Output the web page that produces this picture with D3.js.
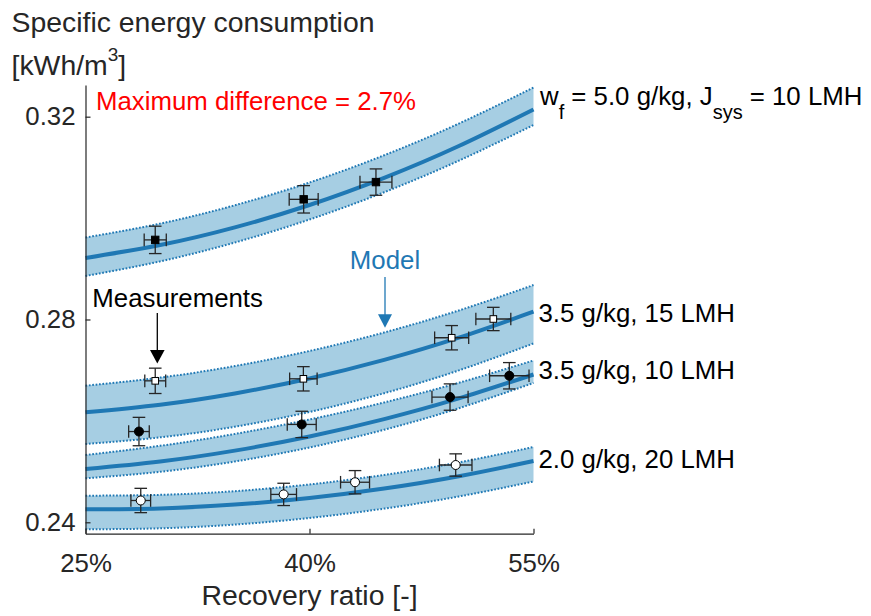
<!DOCTYPE html>
<html>
<head>
<meta charset="utf-8">
<script src="https://cdn.jsdelivr.net/npm/d3@7"></script>
<style>
  html, body { margin: 0; padding: 0; background: #fff; }
  svg { display: block; font-family: "Liberation Sans", Arial, Helvetica, sans-serif; }
</style>
</head>
<body>
<svg id="chart" width="871" height="616"></svg>
<script>
// Recovery ratio grid (%) on which the model band is evaluated
const modelRecovery = [25, 30, 35, 40, 45, 50, 55];

// Model: specific energy consumption [kWh/m3] — centre line, upper and lower bound
const modelW50J10     = [0.29213, 0.29468, 0.29817, 0.30258, 0.30793, 0.31421, 0.32142];
const modelW50J10Hi   = [0.29617, 0.29891, 0.30253, 0.30702, 0.31239, 0.31864, 0.32576];
const modelW50J10Lo   = [0.28858, 0.29146, 0.29518, 0.29972, 0.30510, 0.31132, 0.31836];

const modelW35J15     = [0.26170, 0.26320, 0.26542, 0.26836, 0.27203, 0.27642, 0.28154];
const modelW35J15Hi   = [0.26694, 0.26854, 0.27082, 0.27379, 0.27744, 0.28178, 0.28680];
const modelW35J15Lo   = [0.25544, 0.25675, 0.25885, 0.26176, 0.26546, 0.26996, 0.27527];

const modelW35J10     = [0.25051, 0.25200, 0.25414, 0.25692, 0.26035, 0.26443, 0.26915];
const modelW35J10Hi   = [0.25327, 0.25509, 0.25743, 0.26028, 0.26364, 0.26752, 0.27191];
const modelW35J10Lo   = [0.24868, 0.24996, 0.25199, 0.25475, 0.25825, 0.26250, 0.26748];

const modelW20J20     = [0.24256, 0.24274, 0.24349, 0.24479, 0.24666, 0.24909, 0.25209];
const modelW20J20Hi   = [0.24525, 0.24541, 0.24614, 0.24746, 0.24935, 0.25181, 0.25485];
const modelW20J20Lo   = [0.23862, 0.23881, 0.23955, 0.24085, 0.24270, 0.24509, 0.24805];

// Measurements: recovery (%), SEC (kWh/m3) and their uncertainties
const measW50J10Rec  = [29.67, 39.61, 44.45];
const measW50J10Sec  = [0.2957, 0.3037, 0.3071];
const measW50J10XErr = [0.74, 0.97, 1.07];
const measW50J10YErr = [0.0027, 0.0027, 0.0026];

const measW35J15Rec  = [29.67, 39.59, 49.52, 52.31];
const measW35J15Sec  = [0.2679, 0.2683, 0.2764, 0.2801];
const measW35J15XErr = [0.70, 0.92, 1.14, 1.17];
const measW35J15YErr = [0.0025, 0.0024, 0.0024, 0.0023];

const measW35J10Rec  = [28.58, 39.48, 49.41, 53.38];
const measW35J10Sec  = [0.2579, 0.2593, 0.2647, 0.2689];
const measW35J10XErr = [0.69, 0.97, 1.21, 1.32];
const measW35J10YErr = [0.0028, 0.0026, 0.0026, 0.0026];

const measW20J20Rec  = [28.70, 38.27, 43.05, 49.79];
const measW20J20Sec  = [0.2443, 0.2455, 0.2479, 0.2513];
const measW20J20XErr = [0.66, 0.86, 0.97, 1.09];
const measW20J20YErr = [0.0024, 0.0022, 0.0023, 0.0022];

// Axis ticks
const xTicks = [25, 40, 55];
const yTicks = [0.24, 0.28, 0.32];

// Build combined structures
const bands = [
  { mid: modelW50J10, hi: modelW50J10Hi, lo: modelW50J10Lo },
  { mid: modelW35J15, hi: modelW35J15Hi, lo: modelW35J15Lo },
  { mid: modelW35J10, hi: modelW35J10Hi, lo: modelW35J10Lo },
  { mid: modelW20J20, hi: modelW20J20Hi, lo: modelW20J20Lo }
];
const measurementSets = [
  { rec: measW50J10Rec, sec: measW50J10Sec, xe: measW50J10XErr, ye: measW50J10YErr, shape: "square", fill: "#000" },
  { rec: measW35J15Rec, sec: measW35J15Sec, xe: measW35J15XErr, ye: measW35J15YErr, shape: "square", fill: "#fff" },
  { rec: measW35J10Rec, sec: measW35J10Sec, xe: measW35J10XErr, ye: measW35J10YErr, shape: "circle", fill: "#000" },
  { rec: measW20J20Rec, sec: measW20J20Sec, xe: measW20J20XErr, ye: measW20J20YErr, shape: "circle", fill: "#fff" }
];

const svg = d3.select("#chart");
const plot = { left: 85.5, right: 533.5, top: 85, bottom: 533.7 };

const x = d3.scaleLinear().domain([25, 55]).range([plot.left, plot.right]);
const y = d3.scaleLinear().domain([0.23775, 0.32625]).range([plot.bottom, plot.top]);

const axisColor = "#262626";
const bandFill = "#a6cee3";
const lineBlue = "#1f78b4";

// Model bands
const area = d3.area()
  .x((d, i) => x(modelRecovery[i]))
  .y0(d => y(d[0]))
  .y1(d => y(d[1]))
  .curve(d3.curveNatural);
const line = d3.line()
  .x((d, i) => x(modelRecovery[i]))
  .y(d => y(d))
  .curve(d3.curveNatural);

const gBands = svg.append("g");
bands.forEach(b => {
  const pairs = b.lo.map((v, i) => [v, b.hi[i]]);
  gBands.append("path").attr("d", area(pairs)).attr("fill", bandFill).attr("stroke", "none");
});
bands.forEach(b => {
  [b.hi, b.lo].forEach(edge => {
    gBands.append("path").attr("d", line(edge))
      .attr("fill", "none").attr("stroke", lineBlue)
      .attr("stroke-width", 2).attr("stroke-dasharray", "1.7,1.7");
  });
});
bands.forEach(b => {
  gBands.append("path").attr("d", line(b.mid))
    .attr("fill", "none").attr("stroke", lineBlue).attr("stroke-width", 4);
});

// Axes
const yAxis = d3.axisLeft(y).tickValues(yTicks).tickSize(-5).tickSizeOuter(0).tickPadding(10)
  .tickFormat(d3.format(".2f"));
const xAxis = d3.axisBottom(x).tickValues(xTicks).tickSize(-5).tickSizeOuter(0).tickPadding(20)
  .tickFormat(d => d + "%");

const gy = svg.append("g").attr("transform", `translate(${plot.left},0)`).call(yAxis);
const gx = svg.append("g").attr("transform", `translate(0,${plot.bottom})`).call(xAxis);
[gx, gy].forEach(g => {
  g.select(".domain").attr("stroke", axisColor).attr("stroke-width", 1.2);
  g.selectAll(".tick line").attr("stroke", axisColor).attr("stroke-width", 1.2);
  g.selectAll(".tick text").attr("fill", axisColor).attr("font-size", 25.8)
    .attr("font-family", "'Liberation Sans', Arial, sans-serif");
});

// Measurements with error bars
const gMeas = svg.append("g");
const errColor = "#262626";
const cap = 6.3;
measurementSets.forEach(s => {
  s.rec.forEach((r, i) => {
    const cx = x(r), cy = y(s.sec[i]);
    const x0 = x(r - s.xe[i]), x1 = x(r + s.xe[i]);
    const y0 = y(s.sec[i] - s.ye[i]), y1 = y(s.sec[i] + s.ye[i]);
    const g = gMeas.append("g").attr("stroke", errColor).attr("stroke-width", 1.3).attr("fill", "none");
    g.append("line").attr("x1", cx).attr("x2", cx).attr("y1", y0).attr("y2", y1);
    g.append("line").attr("x1", cx - cap).attr("x2", cx + cap).attr("y1", y0).attr("y2", y0);
    g.append("line").attr("x1", cx - cap).attr("x2", cx + cap).attr("y1", y1).attr("y2", y1);
    g.append("line").attr("x1", x0).attr("x2", x1).attr("y1", cy).attr("y2", cy);
    g.append("line").attr("x1", x0).attr("x2", x0).attr("y1", cy - cap).attr("y2", cy + cap);
    g.append("line").attr("x1", x1).attr("x2", x1).attr("y1", cy - cap).attr("y2", cy + cap);
    if (s.shape === "square") {
      const h = s.fill === "#000" ? 3.7 : 3.3;
      gMeas.append("rect").attr("x", cx - h).attr("y", cy - h).attr("width", 2 * h).attr("height", 2 * h)
        .attr("fill", s.fill).attr("stroke", "#000").attr("stroke-width", 1);
    } else {
      gMeas.append("circle").attr("cx", cx).attr("cy", cy).attr("r", 4.5)
        .attr("fill", s.fill).attr("stroke", "#000").attr("stroke-width", 1);
    }
  });
});

// Axis labels
const labelFont = 28.4;
svg.append("text").attr("x", 11.5).attr("y", 31.5).attr("fill", axisColor)
  .attr("font-size", labelFont).text("Specific energy consumption");
const yLab2 = svg.append("text").attr("x", 11.5).attr("y", 75).attr("fill", axisColor)
  .attr("font-size", labelFont);
yLab2.append("tspan").text("[kWh/m");
yLab2.append("tspan").attr("font-size", 19).attr("dy", -14).text("3");
yLab2.append("tspan").attr("dy", 14).text("]");

svg.append("text").attr("x", (plot.left + plot.right) / 2).attr("y", 605)
  .attr("text-anchor", "middle").attr("fill", axisColor).attr("font-size", labelFont)
  .text("Recovery ratio [-]");

// Annotations
const annFont = 25.8;
svg.append("text").attr("x", 96).attr("y", 109.5).attr("fill", "#ff0000")
  .attr("font-size", annFont).text("Maximum difference = 2.7%");

// Series labels at the right end of each band
const topLab = svg.append("text").attr("x", 540).attr("y", 105).attr("fill", "#000").attr("font-size", annFont);
topLab.append("tspan").text("w");
topLab.append("tspan").attr("font-size", 20).attr("dy", 14).text("f");
topLab.append("tspan").attr("dy", -14).text(" = 5.0 g/kg, J");
topLab.append("tspan").attr("font-size", 20).attr("dy", 14).text("sys");
topLab.append("tspan").attr("dy", -14).text(" = 10 LMH");

const sideLabels = ["3.5 g/kg, 15 LMH", "3.5 g/kg, 10 LMH", "2.0 g/kg, 20 LMH"];
const sideLabelY = [321.7, 379.3, 468.3];
sideLabels.forEach((t, i) => {
  svg.append("text").attr("x", 538.5).attr("y", sideLabelY[i]).attr("fill", "#000")
    .attr("font-size", annFont).text(t);
});

// "Measurements" callout
svg.append("text").attr("x", 92.3).attr("y", 306.7).attr("fill", "#000")
  .attr("font-size", annFont).text("Measurements");
svg.append("line").attr("x1", 157.3).attr("x2", 157.3).attr("y1", 313).attr("y2", 351)
  .attr("stroke", "#000").attr("stroke-width", 1.3);
svg.append("path").attr("d", "M150,350 L164.6,350 L157.3,363.5 Z").attr("fill", "#000");

// "Model" callout
svg.append("text").attr("x", 385).attr("y", 269.3).attr("text-anchor", "middle")
  .attr("fill", lineBlue).attr("font-size", annFont).text("Model");
svg.append("line").attr("x1", 385).attr("x2", 385).attr("y1", 277).attr("y2", 315)
  .attr("stroke", lineBlue).attr("stroke-width", 1.3);
svg.append("path").attr("d", "M378,314.3 L392,314.3 L385,327.7 Z").attr("fill", lineBlue);
</script>
</body>
</html>
